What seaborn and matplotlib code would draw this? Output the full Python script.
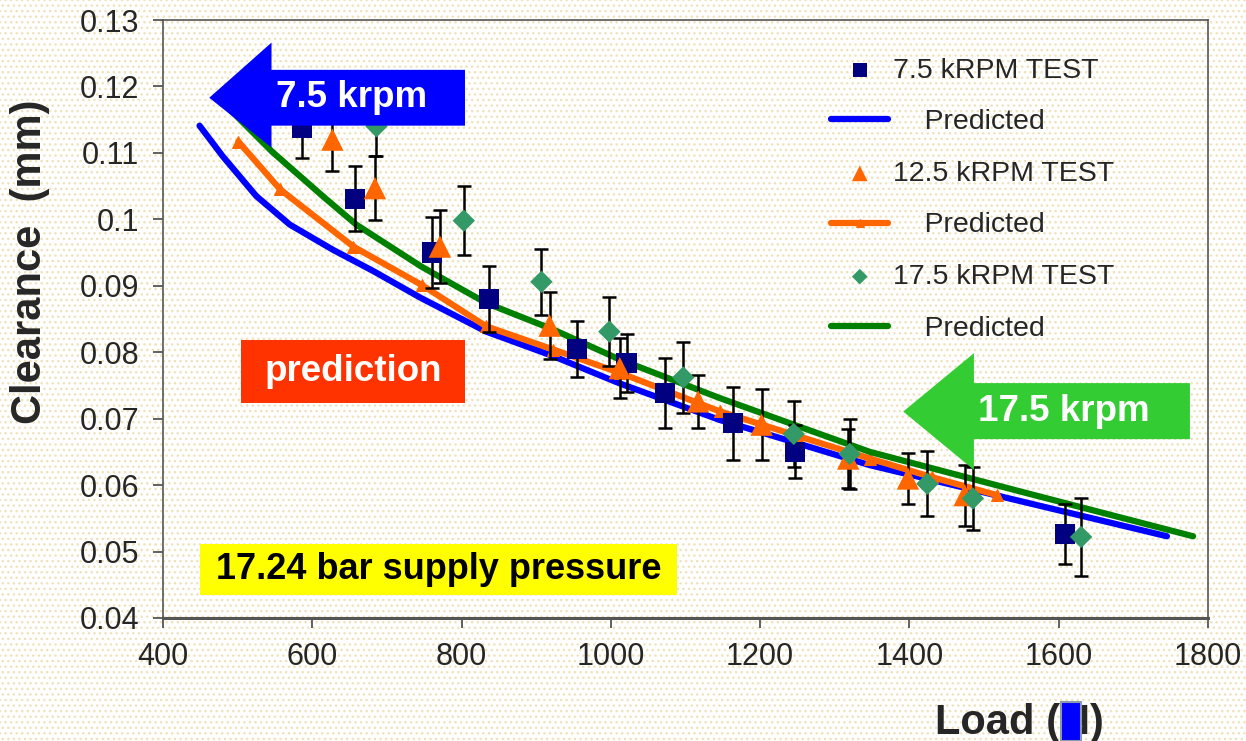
import numpy as np
import pandas as pd
import matplotlib
matplotlib.use('Agg')
import matplotlib.pyplot as plt
from matplotlib.patches import Polygon, Rectangle
import seaborn as sns

sns.set_theme(style="white")
plt.rcParams['font.family'] = ['Liberation Sans', 'DejaVu Sans']
plt.rcParams['hatch.linewidth'] = 1.0

# test points (load N, clearance mm, error bar half height)
load_75 = [586, 657, 760, 837, 955, 1021, 1073, 1164, 1247, 1608]
clr_75 = [0.1138, 0.1031, 0.0950, 0.0880, 0.0805, 0.0784, 0.0739, 0.0693, 0.0650, 0.0527]
err_75 = [0.0045, 0.0049, 0.0053, 0.0050, 0.0042, 0.0044, 0.0053, 0.0055, 0.0040, 0.0045]

load_125 = [627, 684, 771, 918, 1012, 1117, 1202, 1318, 1398, 1474]
clr_125 = [0.1120, 0.1047, 0.0959, 0.0840, 0.0776, 0.0726, 0.0691, 0.0640, 0.0610, 0.0585]
err_125 = [0.0048, 0.0048, 0.0055, 0.0050, 0.0045, 0.0040, 0.0053, 0.0045, 0.0039, 0.0046]

load_175 = [686, 803, 907, 998, 1097, 1245, 1320, 1424, 1485, 1630]
clr_175 = [0.1140, 0.0998, 0.0906, 0.0831, 0.0762, 0.0677, 0.0647, 0.0602, 0.0580, 0.0522]
err_175 = [0.0045, 0.0052, 0.0050, 0.0052, 0.0053, 0.0050, 0.0053, 0.0049, 0.0047, 0.0059]

# predicted curves
pred_load_75 = [449, 480, 525, 570, 628, 682, 745, 833, 923, 1012, 1146, 1250, 1347, 1500, 1745]
pred_clr_75 = [0.1141, 0.1095, 0.1035, 0.0992, 0.0954, 0.0922, 0.0882, 0.0831, 0.0794, 0.0753,
               0.0698, 0.0663, 0.0630, 0.0589, 0.0523]

pred_load_125 = [501, 557, 655, 747, 833, 923, 1012, 1146, 1250, 1347, 1430, 1517]
pred_clr_125 = [0.1117, 0.1045, 0.0959, 0.0901, 0.0839, 0.0804, 0.0769, 0.0711, 0.0674, 0.0640,
                0.0612, 0.0585]

pred_load_175 = [490, 546, 615, 659, 746, 833, 923, 1012, 1146, 1250, 1347, 1550, 1780]
pred_clr_175 = [0.1165, 0.1102, 0.1034, 0.0992, 0.0929, 0.0874, 0.0834, 0.0789, 0.0731, 0.0689,
                0.0650, 0.0590, 0.0523]

x_ticks = [400, 600, 800, 1000, 1200, 1400, 1600, 1800]
y_ticks = [0.04, 0.05, 0.06, 0.07, 0.08, 0.09, 0.10, 0.11, 0.12, 0.13]
y_tick_labels = ['0.04', '0.05', '0.06', '0.07', '0.08', '0.09', '0.1', '0.11', '0.12', '0.13']

fig = plt.figure(figsize=(12.46, 7.41), dpi=100)
fig.patch.set_facecolor('white')
fig.patch.set_hatch('...')
fig.patch.set_edgecolor('#efe2bb')
fig.patch.set_linewidth(0)
ax = fig.add_axes([0.1308, 0.166, 0.8387, 0.807])
ax.set_facecolor('none')

# predicted lines
sns.lineplot(x=pred_load_75, y=pred_clr_75, ax=ax, color='#0000ff', lw=4.5,
             label='    Predicted', zorder=2, sort=False)
sns.lineplot(x=pred_load_125, y=pred_clr_125, ax=ax, color='#ff6600', lw=4.5,
             marker='^', markersize=8, markeredgecolor='#ff6600',
             label='    Predicted', zorder=2, sort=False)
sns.lineplot(x=pred_load_175, y=pred_clr_175, ax=ax, color='#008000', lw=4.5,
             label='    Predicted', zorder=2, sort=False)

# error bars
for xs, ys, es in [(load_75, clr_75, err_75), (load_125, clr_125, err_125), (load_175, clr_175, err_175)]:
    ax.errorbar(xs, ys, yerr=es, fmt='none', ecolor='black', elinewidth=1.8,
                capsize=5, capthick=1.8, zorder=3)

sns.scatterplot(x=load_75, y=clr_75, ax=ax, marker='s', s=210, color='#000080',
                edgecolor='none', label='7.5 kRPM TEST', zorder=4)
sns.scatterplot(x=load_125, y=clr_125, ax=ax, marker='^', s=260, color='#ff6600',
                edgecolor='none', label='12.5 kRPM TEST', zorder=4)
sns.scatterplot(x=load_175, y=clr_175, ax=ax, marker='D', s=130, color='#339966',
                edgecolor='none', label='17.5 kRPM TEST', zorder=4)

ax.set_xlim(400, 1800)
ax.set_ylim(0.04, 0.13)
ax.set_xticks(x_ticks)
ax.set_xticklabels([str(t) for t in x_ticks])
ax.set_yticks(y_ticks)
ax.set_yticklabels(y_tick_labels)
ax.tick_params(axis='both', which='major', direction='out', length=7, width=1.3,
               color='#555555', labelsize=22, pad=10, left=True, bottom=True)
for s in ['left', 'top', 'right']:
    ax.spines[s].set_color('#555555')
    ax.spines[s].set_linewidth(1.2)
ax.spines['bottom'].set_color('#555555')
ax.spines['bottom'].set_linewidth(2.2)

ax.set_xlabel('')
ax.set_ylabel('Clearance  (mm)', fontsize=30, fontweight='bold')
ax.yaxis.set_label_coords(-0.108, 0.595)

# legend in Excel order
h, l = ax.get_legend_handles_labels()
order = [3, 0, 4, 1, 5, 2]
leg = ax.legend([h[i] for i in order], [l[i] for i in order], loc='upper left',
                bbox_to_anchor=(0.615, 0.98), frameon=False, fontsize=20.5,
                labelspacing=0.9, handlelength=2.0, handletextpad=0.15, markerscale=0.7)

# blue arrow 7.5 krpm
ax.add_patch(Polygon([(462, 0.1183), (545.4, 0.1266), (545.4, 0.1225), (804.6, 0.1225),
                      (804.6, 0.1141), (545.4, 0.1141), (545.4, 0.1108)],
                     closed=True, facecolor='#0000ff', edgecolor='none', zorder=6, clip_on=False))
ax.text(653, 0.1183, '7.5 krpm', color='white', fontsize=26.5, fontweight='bold',
        ha='center', va='center', zorder=7)

# green arrow 17.5 krpm
ax.add_patch(Polygon([(1391.7, 0.07107), (1486.4, 0.07985), (1486.4, 0.07535), (1775.8, 0.07535),
                      (1775.8, 0.06692), (1486.4, 0.06692), (1486.4, 0.06229)],
                     closed=True, facecolor='#33cc33', edgecolor='none', zorder=6, clip_on=False))
ax.text(1607, 0.0711, '17.5 krpm', color='white', fontsize=26.5, fontweight='bold',
        ha='center', va='center', zorder=7)

# prediction box
ax.add_patch(Rectangle((504.5, 0.07233), 300.1, 0.00954, facecolor='#ff3300',
                       edgecolor='none', zorder=6))
ax.text(654.5, 0.0771, 'prediction', color='white', fontsize=26.5, fontweight='bold',
        ha='center', va='center', zorder=7)

# supply pressure box
ax.add_patch(Rectangle((449.6, 0.04348), 638.6, 0.00768, facecolor='#ffff00',
                       edgecolor='none', zorder=6))
ax.text(769, 0.0473, '17.24 bar supply pressure', color='black', fontsize=26,
        fontweight='bold', ha='center', va='center', zorder=7)

# x axis title, with the blue block over the N
fig.text(935 / 1246, 0.009, 'Load (N)', fontsize=30, fontweight='bold', ha='left', va='baseline')
fig.patches.append(Rectangle((1061 / 1246, 0.0), 20 / 1246, 39 / 741, transform=fig.transFigure,
                             facecolor='#0000ff', edgecolor='#8a9aaa', lw=1.5, zorder=5))

plt.savefig('out.png', dpi=100, facecolor=fig.get_facecolor())
